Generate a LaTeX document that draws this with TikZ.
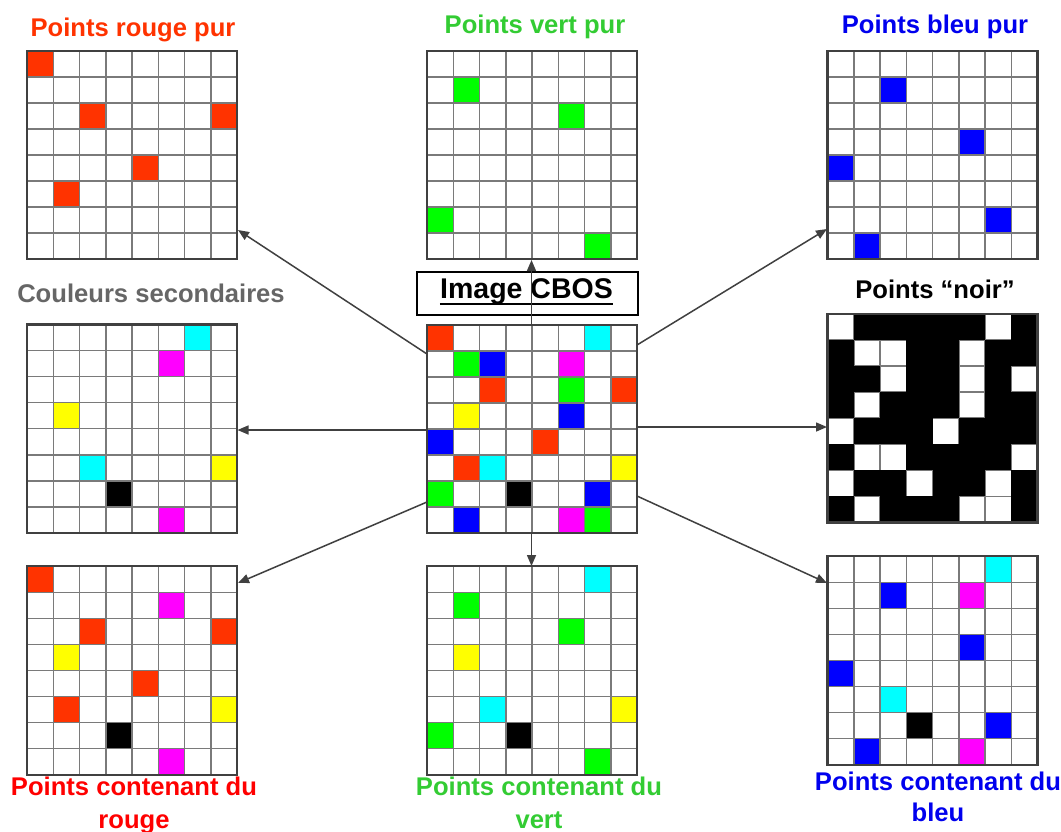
\documentclass[tikz,border=0pt]{standalone}
\usepackage{fontspec}
\setmainfont{Liberation Sans}
\usetikzlibrary{arrows.meta}
\definecolor{cred}{HTML}{FF3300}
\definecolor{cgreen}{HTML}{00FF00}
\definecolor{cblue}{HTML}{0000FF}
\definecolor{ccyan}{HTML}{00FFFF}
\definecolor{cmag}{HTML}{FF00FF}
\definecolor{cyel}{HTML}{FFFF00}
\definecolor{lred}{HTML}{FF3300}
\definecolor{lredb}{HTML}{FF0000}
\definecolor{lgreen}{HTML}{33CC33}
\definecolor{lblue}{HTML}{0000EE}
\definecolor{lgray}{HTML}{666666}
\definecolor{arrowc}{HTML}{404040}
\definecolor{gridc}{HTML}{7A7A7A}
\definecolor{borderc}{HTML}{404040}
\tikzset{
  gridline/.style={draw=gridc, line width=1.5},
  gridborder/.style={draw=borderc, line width=2.2},
  arr/.style={draw=arrowc, line width=1.5, -{Triangle[length=11,width=9]}},
  lab/.style={font=\bfseries\fontsize{25.6}{33}\selectfont, inner sep=0, align=center},
}
\newcommand{\mygrid}[3]{%
  \foreach \ci/\ri/\cc in {#3} {
    \fill[\cc] (#1+\ci*26.25, #2+\ri*26.05) rectangle ++(26.25, 26.05);
  }
  \foreach \ii in {1,...,7} {
    \draw[gridline] (#1+\ii*26.25, #2) -- ++(0, 208.4);
    \draw[gridline] (#1, #2+\ii*26.05) -- ++(210, 0);
  }
  \draw[gridborder] (#1,#2) rectangle ++(210, 208.4);
}
\newcommand{\myblackgrid}[3]{%
  \foreach \ii in {1,...,7} {
    \draw[gridline] (#1+\ii*26.25, #2) -- ++(0, 208.4);
    \draw[gridline] (#1, #2+\ii*26.05) -- ++(210, 0);
  }
  \foreach \ri/\cols in {#3} {
    \foreach \ci in \cols {
      \fill[black] (#1+\ci*26.25, #2+\ri*26.05) rectangle ++(26.25, 26.05);
    }
  }
  \draw[gridborder] (#1,#2) rectangle ++(210, 208.4);
}
\begin{document}
\begin{tikzpicture}[x=1pt, y=-1pt]
\useasboundingbox (0,0) rectangle (1061,831);
\fill[white] (0,0) rectangle (1061,831);

% grids
\mygrid{27}{50.7}{0/0/cred, 2/2/cred, 7/2/cred, 4/4/cred, 1/5/cred}
\mygrid{427}{50.7}{1/1/cgreen, 5/2/cgreen, 0/6/cgreen, 6/7/cgreen}
\mygrid{827.5}{50.7}{2/1/cblue, 5/3/cblue, 0/4/cblue, 6/6/cblue, 1/7/cblue}
\mygrid{27}{324.5}{6/0/ccyan, 5/1/cmag, 1/3/cyel, 2/5/ccyan, 7/5/cyel, 3/6/black, 5/7/cmag}
\mygrid{427}{324.8}{0/0/cred, 6/0/ccyan, 1/1/cgreen, 2/1/cblue, 5/1/cmag, 2/2/cred, 5/2/cgreen, 7/2/cred, 1/3/cyel, 5/3/cblue, 0/4/cblue, 4/4/cred, 1/5/cred, 2/5/ccyan, 7/5/cyel, 0/6/cgreen, 3/6/black, 6/6/cblue, 1/7/cblue, 5/7/cmag, 6/7/cgreen}
\myblackgrid{827.5}{314}{0/{1,2,3,4,5,7}, 1/{0,3,4,6,7}, 2/{0,1,3,4,6}, 3/{0,2,3,4,6,7}, 4/{1,2,3,5,6,7}, 5/{0,3,4,5,6}, 6/{1,2,4,5,7}, 7/{0,2,3,4,7}}
\mygrid{27}{566.3}{0/0/cred, 5/1/cmag, 2/2/cred, 7/2/cred, 1/3/cyel, 4/4/cred, 1/5/cred, 7/5/cyel, 3/6/black, 5/7/cmag}
\mygrid{427}{566.3}{6/0/ccyan, 1/1/cgreen, 5/2/cgreen, 1/3/cyel, 2/5/ccyan, 7/5/cyel, 0/6/cgreen, 3/6/black, 6/7/cgreen}
\mygrid{827.5}{556.3}{6/0/ccyan, 2/1/cblue, 5/1/cmag, 5/3/cblue, 0/4/cblue, 2/5/ccyan, 3/6/black, 6/6/cblue, 1/7/cblue, 5/7/cmag}

% labels
\node[lab, text=lred, anchor=base] (l-tl) at (133,36) {Points rouge pur};
\node[lab, text=lgreen, anchor=base] (l-tm) at (535,33) {Points vert pur};
\node[lab, text=lblue, anchor=base] (l-tr) at (935,33) {Points bleu pur};
\node[lab, text=lgray, anchor=base] (l-ml) at (151,302) {Couleurs secondaires};
\node[lab, text=black, anchor=base] (l-mr) at (935,298) {Points “noir”};
\node[lab, text=lredb, anchor=north] (l-bl) at (134,777) {Points contenant du\\rouge};
\node[lab, text=lgreen, anchor=north] (l-bm) at (539,777) {Points contenant du\\vert};
\node[lab, text=lblue, anchor=north, font=\bfseries\fontsize{25.6}{31}\selectfont] (l-br) at (938,772) {Points contenant du\\bleu};

% Image CBOS box
\node[draw=black, line width=2, minimum width=221, minimum height=43, inner sep=0] (cbosbox) at (527.8,293.5) {};
\node[lab, text=black, anchor=base, font=\bfseries\fontsize{28.5}{33}\selectfont] (cbostxt) at (526.5,298.5) {Image CBOS};
\draw[black, line width=2] ([yshift=-5.5]cbostxt.base west) -- ([yshift=-5.5]cbostxt.base east);

% arrow end points
\coordinate (s-tl) at (427,354);   \coordinate (e-tl) at (238,230);
\coordinate (s-tm) at (531.5,324.8); \coordinate (e-tm) at (531.5,260);
\coordinate (s-tr) at (637,345);   \coordinate (e-tr) at (827,229);
\coordinate (s-ml) at (427,430);   \coordinate (e-ml) at (237.5,430);
\coordinate (s-mr) at (637,427);   \coordinate (e-mr) at (827,427);
\coordinate (s-bl) at (427,502);   \coordinate (e-bl) at (238,583);
\coordinate (s-bm) at (531.5,533.2); \coordinate (e-bm) at (531.5,566);
\coordinate (s-br) at (637,496);   \coordinate (e-br) at (827,583);

\foreach \k in {tl,tm,tr,ml,mr,bl,bm,br} {
  \draw[arr] (s-\k) -- (e-\k);
}
\end{tikzpicture}
\end{document}
